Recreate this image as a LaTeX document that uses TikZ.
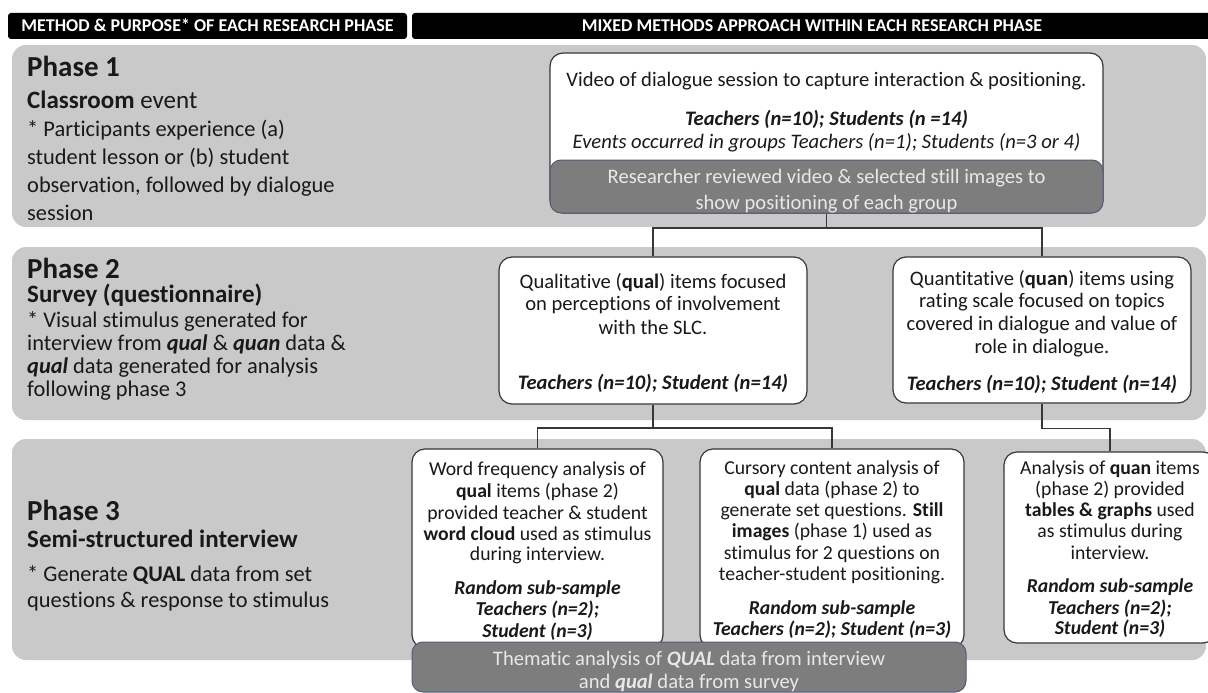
\documentclass[tikz,border=0pt]{standalone}
\usepackage{fontspec}
\setmainfont{Carlito}[Ligatures={NoCommon}]
\definecolor{bandgray}{RGB}{201,201,201}
\definecolor{boxline}{RGB}{55,55,55}
\definecolor{darkfill}{RGB}{125,125,125}
\definecolor{darkline}{RGB}{80,92,120}
\definecolor{lighttext}{RGB}{232,232,232}
\definecolor{ink}{RGB}{25,25,25}
\begin{document}
\begin{tikzpicture}[x=1pt,y=-1pt,
  band/.style={fill=bandgray, draw=none, rounded corners=14pt, minimum width=1194pt, inner sep=0},
  hdr/.style={fill=black, rounded corners=3pt, minimum height=26pt, inner sep=0},
  wbox/.style={fill=white, draw=boxline, line width=1.2pt, rounded corners=13pt, inner sep=0},
  gbox/.style={fill=darkfill, draw=darkline, line width=1pt, rounded corners=11pt, inner sep=0},
  conn/.style={draw=boxline, line width=1.5pt},
  ht/.style={anchor=base, inner sep=0, text=white, font=\fontsize{18pt}{20pt}\selectfont\bfseries},
  ptitle/.style={anchor=base west, inner sep=0, text=ink, font=\fontsize{29pt}{32pt}\selectfont\bfseries},
  psub/.style={anchor=base west, inner sep=0, text=ink, font=\fontsize{25pt}{28pt}\selectfont},
  lt/.style={anchor=base west, inner sep=0, text=ink, font=\fontsize{22.4pt}{26pt}\selectfont},
  bt/.style={anchor=base, inner sep=0, text=ink, font=\fontsize{20.6pt}{24pt}\selectfont},
  st/.style={anchor=base, inner sep=0, text=ink, font=\fontsize{19.7pt}{23pt}\selectfont},
  gt/.style={anchor=base, inner sep=0, text=lighttext, font=\fontsize{20.6pt}{24pt}\selectfont},
]
\useasboundingbox (0,0) rectangle (1208,693);
\clip (0,0) rectangle (1208,693);
\fill[white] (0,0) rectangle (1208,693);

% headers
\node[hdr, minimum width=399pt] (hl) at (207.5,26) {};
\node[ht] (hlt) at (207.5,32) {METHOD \& PURPOSE* OF EACH RESEARCH PHASE};
\node[hdr, minimum width=804pt] (hr) at (814,26) {};
\node[ht] (hrt) at (812,32) {MIXED METHODS APPROACH WITHIN EACH RESEARCH PHASE};

% bands
\node[band, minimum height=182pt] (b1) at (609,136) {};
\node[band, minimum height=173pt] (b2) at (609,333.5) {};
\node[band, minimum height=221pt] (b3) at (609,549.5) {};

% left column texts
\node[ptitle] (p1title) at (27,77) {Phase 1};
\node[psub] (p1sub) at (27,108) {\textbf{Classroom} event};
\node[lt] (p1l1) at (27,136) {* Participants experience (a)};
\node[lt] (p1l2) at (27,164) {student lesson or (b) student};
\node[lt] (p1l3) at (27,192) {observation, followed by dialogue};
\node[lt] (p1l4) at (27,220) {session};

\node[ptitle] (p2title) at (27,278) {Phase 2};
\node[psub] (p2sub) at (27,302) {\textbf{Survey (questionnaire)}};
\node[lt] (p2l1) at (27,327) {* Visual stimulus generated for};
\node[lt] (p2l2) at (27,350) {interview from \textbf{\textit{qual}} \& \textbf{\textit{quan}} data \&};
\node[lt] (p2l3) at (27,373) {\textbf{\textit{qual}} data generated for analysis};
\node[lt] (p2l4) at (27,396) {following phase 3};

\node[ptitle] (p3title) at (27,520) {Phase 3};
\node[psub] (p3sub) at (27,547) {\textbf{Semi-structured interview}};
\node[lt] (p3l1) at (27,581) {* Generate \textbf{QUAL} data from set};
\node[lt] (p3l2) at (27,607) {questions \& response to stimulus};

% phase 1 box
\node[wbox, minimum width=553pt, minimum height=160pt] (p1box) at (826.5,133) {};
\node[gbox, minimum width=553pt, minimum height=53pt] (p1gray) at (826.5,186.5) {};
\node[bt] (p1a) at (826.5,86) {Video of dialogue session to capture interaction \& positioning.};
\node[bt] (p1b) at (826.5,125) {\textbf{\textit{Teachers (n=10); Students (n =14)}}};
\node[bt] (p1c) at (826.5,148) {\textit{Events occurred in groups Teachers (n=1); Students (n=3 or 4)}};
\node[gt] (p1d) at (826.5,183) {Researcher reviewed video \& selected still images to};
\node[gt] (p1e) at (826.5,209) {show positioning of each group};

% phase 2 boxes
\node[wbox, minimum width=308pt, minimum height=147pt] (qual) at (653,330.5) {};
\node[bt] (q1) at (653,288) {Qualitative (\textbf{qual}) items focused};
\node[bt] (q2) at (653,310) {on perceptions of involvement};
\node[bt] (q3) at (653,334) {with the SLC.};
\node[bt] (q4) at (653,389) {\textbf{\textit{Teachers (n=10); Student (n=14)}}};

\node[wbox, minimum width=298pt, minimum height=146pt] (quan) at (1042,330) {};
\node[bt] (n1) at (1042,285) {Quantitative (\textbf{quan}) items using};
\node[bt] (n2) at (1042,307) {rating scale focused on topics};
\node[bt] (n3) at (1042,330) {covered in dialogue and value of};
\node[bt] (n4) at (1042,353) {role in dialogue.};
\node[bt] (n5) at (1042,390) {\textbf{\textit{Teachers (n=10); Student (n=14)}}};

% phase 3 boxes
\node[wbox, minimum width=251pt, minimum height=199pt] (wf) at (537.5,548.5) {};
\node[st] (w1) at (537.5,475) {Word frequency analysis of};
\node[st] (w2) at (537.5,497) {\textbf{qual} items (phase 2)};
\node[st] (w3) at (537.5,519) {provided teacher \& student};
\node[st] (w4) at (537.5,540) {\textbf{word cloud} used as stimulus};
\node[st] (w5) at (537.5,560) {during interview.};
\node[st] (w6) at (537.5,594) {\textbf{\textit{Random sub-sample}}};
\node[st] (w7) at (537.5,615) {\textbf{\textit{Teachers (n=2);}}};
\node[st] (w8) at (537.5,637) {\textbf{\textit{Student (n=3)}}};

\node[wbox, minimum width=264pt, minimum height=199pt] (cur) at (832,548.5) {};
\node[st] (c1) at (832,474) {Cursory content analysis of};
\node[st] (c2) at (832,495) {\textbf{qual} data (phase 2) to};
\node[st] (c3) at (832,516) {generate set questions. \textbf{Still}};
\node[st] (c4) at (832,537) {\textbf{images} (phase 1) used as};
\node[st] (c5) at (832,559) {stimulus for 2 questions on};
\node[st] (c6) at (832,580) {teacher-student positioning.};
\node[st] (c7) at (832,614) {\textbf{\textit{Random sub-sample}}};
\node[st] (c8) at (832,635) {\textbf{\textit{Teachers (n=2); Student (n=3)}}};

\node[wbox, minimum width=212pt, minimum height=191pt] (ana) at (1110,547.5) {};
\node[st] (a1) at (1110,474) {Analysis of \textbf{quan} items};
\node[st] (a2) at (1110,495) {(phase 2) provided};
\node[st] (a3) at (1110,516) {\textbf{tables \& graphs} used};
\node[st] (a4) at (1110,537) {as stimulus during};
\node[st] (a5) at (1110,559) {interview.};
\node[st] (a6) at (1110,592) {\textbf{\textit{Random sub-sample}}};
\node[st] (a7) at (1110,614) {\textbf{\textit{Teachers (n=2);}}};
\node[st] (a8) at (1110,634) {\textbf{\textit{Student (n=3)}}};

% thematic box
\node[gbox, minimum width=554pt, minimum height=50pt] (them) at (689,667) {};
\node[gt] (t1) at (689,665) {Thematic analysis of \textbf{\textit{QUAL}} data from interview};
\node[gt] (t2) at (689,688) {and \textbf{\textit{qual}} data from survey};

% connectors
\coordinate (j1) at (826.5,228);
\coordinate (j2) at (653,428);
\draw[conn] (p1gray.south) -- (j1);
\draw[conn] (qual.north) |- (j1);
\draw[conn] (quan.north) |- (j1);
\draw[conn] (qual.south) -- (j2);
\draw[conn] (wf.north) |- (j2);
\draw[conn] (cur.north) |- (j2);
\draw[conn] (quan.south) -- ++(0,25) -| (ana.north);
\end{tikzpicture}
\end{document}
